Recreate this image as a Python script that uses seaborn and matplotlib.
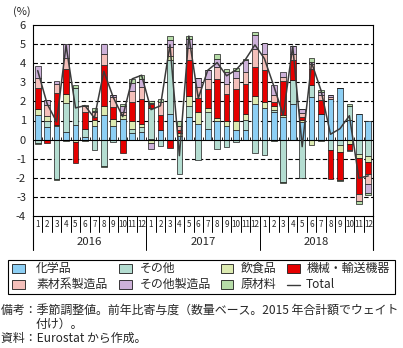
import numpy as np
import pandas as pd
import matplotlib
matplotlib.use("Agg")
import matplotlib.pyplot as plt
import matplotlib.transforms as mtransforms
from matplotlib.patches import Rectangle
from matplotlib.lines import Line2D
import seaborn as sns

# ---------------- data ----------------
years = ["2016", "2017", "2018"]
month_labels = [str(m) for m in range(1, 13)] * 3

chemicals = [1.31, 0.65, 0.70, 0.40, 0.75, 0.12, 0.70, 1.30, 0.70, 1.06, 0.37, 0.40,
             0.05, 0.52, 1.36, 0.20, 1.19, 0.84, 0.58, 0.96, 0.70, 0.49, 0.52, 1.85,
             1.68, 1.45, 1.19, 1.88, 0.92, 2.23, 1.36, 2.15, 2.72, 1.01, 1.33, 0.98]
others = [-0.17, 0.30, -2.08, 1.52, 1.97, 0.42, -0.52, -1.38, -0.12, 0.00, 0.21, 0.26,
          1.60, -0.33, 2.83, -1.82, 0.57, -1.08, 0.87, -0.47, -0.38, -0.10, 0.53, -0.68,
          -0.82, 0.12, -2.22, 1.26, -1.99, 0.61, 0.00, -0.52, -0.30, 0.74, -0.73, -0.87]
food = [0.31, 0.30, 0.08, 0.49, -0.12, -0.05, 0.32, 0.46, 0.40, 0.21, 0.42, 0.18,
        -0.17, 0.00, 0.17, 0.15, 0.50, 0.60, 0.23, 0.19, 0.28, 0.49, 0.31, 0.44,
        0.29, 0.18, 0.09, 0.00, 0.09, -0.26, -0.05, 0.00, -0.35, -0.25, -0.21, -0.28]
machinery = [1.10, -0.18, 1.66, 1.31, -1.08, 0.88, 0.15, 2.17, 0.62, -0.68, 0.97, 1.31,
             0.22, 0.75, -0.44, 0.15, 1.90, 0.75, 0.99, 2.04, 1.42, 1.69, 1.57, 1.51,
             1.66, 0.22, 1.79, 1.01, 0.17, 0.88, 0.70, -1.52, -1.44, -0.27, -1.92, -0.63]
materials = [0.53, 0.55, 0.49, 0.57, 0.00, 0.35, 0.30, 0.57, 0.53, 0.17, 0.56, 0.61,
             0.05, 0.70, 0.50, 0.22, 0.62, 0.55, 0.52, 0.61, 0.50, 0.58, 0.61, 0.96,
             0.87, 0.35, 0.21, 0.35, 0.21, 0.26, 0.26, 0.10, 0.00, -0.08, -0.37, -0.56]
other_mfg = [0.61, 0.25, 0.12, 0.70, 0.00, 0.00, 0.05, 0.53, 0.08, 0.30, 0.44, 0.42,
             -0.30, 0.00, 0.38, 0.00, 0.50, 0.50, 0.44, 0.44, 0.64, 0.35, 0.61, 0.70,
             0.56, 0.53, 0.26, 0.39, 0.23, 0.09, 0.18, 0.07, 0.00, 0.00, 0.00, -0.45]
raw_materials = [-0.08, 0.00, -0.04, -0.05, 0.14, 0.06, 0.13, -0.07, 0.00, 0.14, 0.21, 0.19,
                 0.12, 0.13, 0.17, 0.26, 0.14, 0.00, 0.00, 0.26, 0.18, 0.15, 0.05, 0.18,
                 0.00, -0.05, -0.05, 0.00, 0.00, 0.22, 0.12, 0.00, -0.06, 0.10, -0.12, -0.09]
total = [3.61, 1.87, 0.93, 4.94, 1.66, 1.78, 1.13, 3.58, 2.21, 1.20, 3.18, 3.37,
         1.57, 1.77, 4.97, -0.84, 5.42, 2.16, 3.63, 4.03, 3.34, 3.65, 4.20, 4.96,
         4.24, 2.80, 1.27, 4.89, -0.37, 4.03, 2.57, 0.28, 0.57, 1.25, -2.02, -1.90]

series_names = ["化学品", "その他", "飲食品", "機械・輸送機器", "素材系製造品", "その他製造品", "原材料"]
series_values = [chemicals, others, food, machinery, materials, other_mfg, raw_materials]
series_colors = ["#8DCFF4", "#B4DDD1", "#DCEAB1", "#E60000", "#F4BFBA", "#CDB1D9", "#B6DCA8"]

# ---------------- style ----------------
sns.set_style("white")
plt.rcParams["font.family"] = ["Noto Sans CJK JP", "DejaVu Sans"]

W, H = 403, 348
fig = plt.figure(figsize=(W / 100, H / 100), dpi=100)

def fx(x):
    return x / W

def fy(y):
    return 1 - y / H

ax_left, ax_right, ax_top, ax_bottom = 33, 373, 25, 216
ax = fig.add_axes([fx(ax_left), fy(ax_bottom), (ax_right - ax_left) / W, (ax_bottom - ax_top) / H])

n = len(total)
x = np.arange(n)
pos_base = np.zeros(n)
neg_base = np.zeros(n)
for name, vals, col in zip(series_names, series_values, series_colors):
    v = np.array(vals, dtype=float)
    bottoms = np.where(v >= 0, pos_base, neg_base)
    ax.bar(x, v, bottom=bottoms, width=0.6, color=col, edgecolor="#1a1a1a",
           linewidth=0.5, zorder=3)
    pos_base = pos_base + np.where(v > 0, v, 0)
    neg_base = neg_base + np.where(v < 0, v, 0)

df_total = pd.DataFrame({"x": x, "total": total})
sns.lineplot(data=df_total, x="x", y="total", color="#3a3a3a", linewidth=1.1, ax=ax, zorder=5)

ax.set_xlim(-0.5, n - 0.5)
ax.set_ylim(-4, 6)

# grid lines
for yv in [-3, -2, -1, 1, 2, 3, 4, 5]:
    ax.axhline(yv, color="black", linewidth=0.8, linestyle=(0, (4, 2.2)), zorder=1)
ax.axhline(0, color="black", linewidth=0.8, zorder=4)
# category ticks on the zero line
ax.vlines(np.arange(n - 1) + 0.5, 0, 0.13, color="black", linewidth=0.6, zorder=4)

for s in ax.spines.values():
    s.set_visible(True)
    s.set_color("black")
    s.set_linewidth(0.8)

ax.set_yticks(range(-4, 7))
ax.set_yticklabels([str(v) for v in range(-4, 7)], fontsize=8)
ax.tick_params(axis="y", length=0, pad=5)
ax.set_xticks([])
ax.set_xlabel("")
ax.set_ylabel("")

# month / year labels below axis
trans = mtransforms.blended_transform_factory(ax.transData, fig.transFigure)
for i, lab in enumerate(month_labels):
    ax.text(i, fy(224.5), lab, transform=trans, ha="center", va="center",
            fontsize=5.8, clip_on=False)
for i in range(1, n):
    lo = 250 if i % 12 == 0 else 232
    ax.add_line(Line2D([i - 0.5, i - 0.5], [fy(216), fy(lo)], transform=trans,
                       color="black", linewidth=0.7, clip_on=False))
for edge in [-0.5, n - 0.5]:
    ax.add_line(Line2D([edge, edge], [fy(216), fy(250)], transform=trans,
                       color="black", linewidth=0.8, clip_on=False))
for k, yr in enumerate(years):
    ax.text(12 * k + 5.5, fy(242), yr, transform=trans, ha="center", va="center",
            fontsize=8.2, clip_on=False)

fig.text(fx(13), fy(12), "(%)", ha="left", va="center", fontsize=8)

# legend (drawn manually)
fig.add_artist(Rectangle((fx(8), fy(294)), (395 - 8) / W, (294 - 260) / H,
                         transform=fig.transFigure, facecolor="white",
                         edgecolor="black", linewidth=0.8))
leg_items = [
    (0, 12, 36, 268.5), (1, 119, 140, 268.5), (2, 221, 241, 268.5), (3, 287, 307, 268.5),
    (4, 12, 36, 284.5), (5, 119, 140, 284.5), (6, 221, 241, 284.5),
]
for idx, px, tx, cy in leg_items:
    fig.add_artist(Rectangle((fx(px), fy(cy + 4)), 12.5 / W, 8.5 / H,
                             transform=fig.transFigure, facecolor=series_colors[idx],
                             edgecolor="#1a1a1a", linewidth=0.6))
    fig.text(fx(tx), fy(cy), series_names[idx], ha="left", va="center", fontsize=8.6)
fig.add_artist(Line2D([fx(287), fx(299.5)], [fy(284.5), fy(284.5)],
                      transform=fig.transFigure, color="#3a3a3a", linewidth=1.0))
fig.text(fx(306), fy(284.5), "Total", ha="left", va="center", fontsize=8.6)

# notes
fig.text(fx(1), fy(310), "備考：季節調整値。前年比寄与度（数量ベース。2015 年合計額でウェイト",
         ha="left", va="center", fontsize=8.6)
fig.text(fx(36), fy(324), "付け）。", ha="left", va="center", fontsize=8.6)
fig.text(fx(1), fy(338.5), "資料：Eurostat から作成。", ha="left", va="center", fontsize=8.6)

fig.savefig("out.png", dpi=100)
